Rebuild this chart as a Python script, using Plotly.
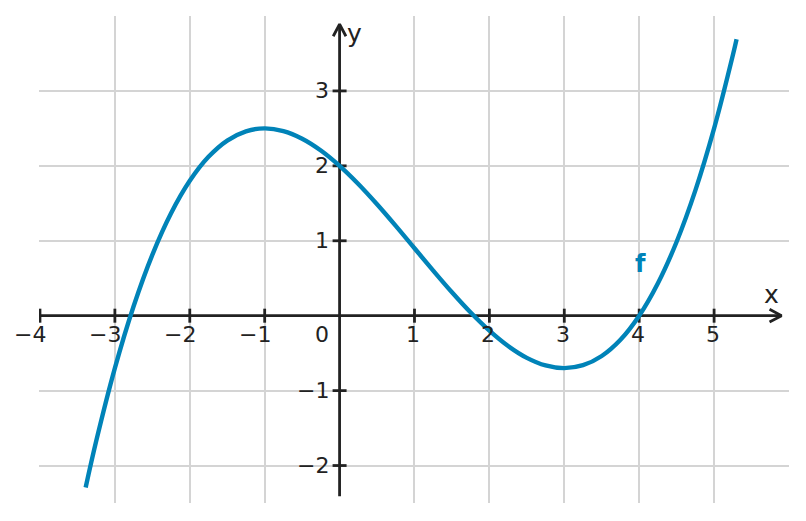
import plotly.graph_objects as go

# Curve samples
curve_x = [-3.39, -3.25, -3.0, -2.75, -2.5, -2.25, -2.0, -1.75, -1.5, -1.25, -1.0,
           -0.75, -0.5, -0.25, 0.0, 0.25, 0.5, 0.75, 1.0, 1.25, 1.5, 1.75, 2.0,
           2.25, 2.5, 2.75, 3.0, 3.25, 3.5, 3.75, 4.0, 4.25, 4.5, 4.75, 5.0, 5.25, 5.3]
curve_y = [-2.293, -1.677, -0.7, 0.126, 0.8125, 1.367, 1.8, 2.12, 2.3375, 2.461, 2.5,
           2.464, 2.3625, 2.205, 2.0, 1.758, 1.4875, 1.199, 0.9, 0.602, 0.3125, 0.042, -0.2,
           -0.405, -0.5625, -0.664, -0.7, -0.661, -0.5375, -0.321, 0.0, 0.433, 0.9875, 1.673, 2.5, 3.476, 3.691]

x_ticks = [-4, -3, -2, -1, 1, 2, 3, 4, 5]
y_ticks = [-2, -1, 1, 2, 3]
x_tick_labels = ["\u22124", "\u22123", "\u22122", "\u22121", "1", "2", "3", "4", "5"]
y_tick_labels = ["\u22122", "\u22121", "1", "2", "3"]

X_MIN, X_MAX = -4.0, 5.9
Y_MIN, Y_MAX = -2.41, 3.89

AXIS = "#222222"
GRID = "#d4d4d4"
BLUE = "#0083b8"
FONT = "DejaVu Sans"
TS = 22
AW = 2.8

fig = go.Figure()

# axes lines
fig.add_trace(go.Scatter(x=[X_MIN, X_MAX], y=[0, 0], mode="lines",
                         line=dict(color=AXIS, width=AW), hoverinfo="skip"))
fig.add_trace(go.Scatter(x=[0, 0], y=[Y_MIN, Y_MAX], mode="lines",
                         line=dict(color=AXIS, width=AW), hoverinfo="skip"))
# arrow heads
ax_len, ax_half = 0.16, 0.085
fig.add_trace(go.Scatter(x=[X_MAX - ax_len, X_MAX, X_MAX - ax_len], y=[ax_half, 0, -ax_half],
                         mode="lines", line=dict(color=AXIS, width=AW), hoverinfo="skip"))
fig.add_trace(go.Scatter(x=[-ax_half, 0, ax_half], y=[Y_MAX - ax_len, Y_MAX, Y_MAX - ax_len],
                         mode="lines", line=dict(color=AXIS, width=AW), hoverinfo="skip"))
# ticks
fig.add_trace(go.Scatter(x=x_ticks, y=[0] * len(x_ticks), mode="markers",
                         marker=dict(symbol="line-ns", size=10, line=dict(color=AXIS, width=AW)),
                         hoverinfo="skip"))
fig.add_trace(go.Scatter(x=[0] * len(y_ticks), y=y_ticks, mode="markers",
                         marker=dict(symbol="line-ew", size=10, line=dict(color=AXIS, width=AW)),
                         hoverinfo="skip"))
# curve
fig.add_trace(go.Scatter(x=curve_x, y=curve_y, mode="lines", line_shape="spline",
                         line=dict(color=BLUE, width=4.4), hoverinfo="skip"))

ann = []
for v, t in zip(x_ticks, x_tick_labels):
    ann.append(dict(x=v, y=0, text=t, showarrow=False, xanchor="right", yanchor="middle",
                    xshift=8, yshift=-19, font=dict(family=FONT, size=TS, color=AXIS)))
ann.append(dict(x=0, y=0, text="0", showarrow=False, xanchor="right", yanchor="middle",
                xshift=-9, yshift=-19, font=dict(family=FONT, size=TS, color=AXIS)))
for v, t in zip(y_ticks, y_tick_labels):
    ann.append(dict(x=0, y=v, text=t, showarrow=False, xanchor="right", yanchor="middle",
                    xshift=-9, font=dict(family=FONT, size=TS, color=AXIS)))
ann.append(dict(x=5.77, y=0.28, text="x", showarrow=False, font=dict(family=FONT, size=25, color=AXIS)))
ann.append(dict(x=0.2, y=3.77, text="y", showarrow=False, font=dict(family=FONT, size=25, color=AXIS)))
ann.append(dict(x=4.02, y=0.69, text="<b>f</b>", showarrow=False, font=dict(family=FONT, size=24, color=BLUE)))

fig.update_layout(
    width=806, height=521,
    margin=dict(l=31, r=25, t=8, b=26),
    paper_bgcolor="white", plot_bgcolor="white",
    showlegend=False,
    annotations=ann,
    xaxis=dict(range=[-4.013, 6.0], tickvals=x_ticks, showticklabels=False, showgrid=True,
               gridcolor=GRID, gridwidth=1.5, zeroline=False, showline=False, fixedrange=True),
    yaxis=dict(range=[-2.5, 4.0], tickvals=y_ticks, showticklabels=False, showgrid=True,
               gridcolor=GRID, gridwidth=1.5, zeroline=False, showline=False, fixedrange=True),
)

fig.write_html("out.html")
